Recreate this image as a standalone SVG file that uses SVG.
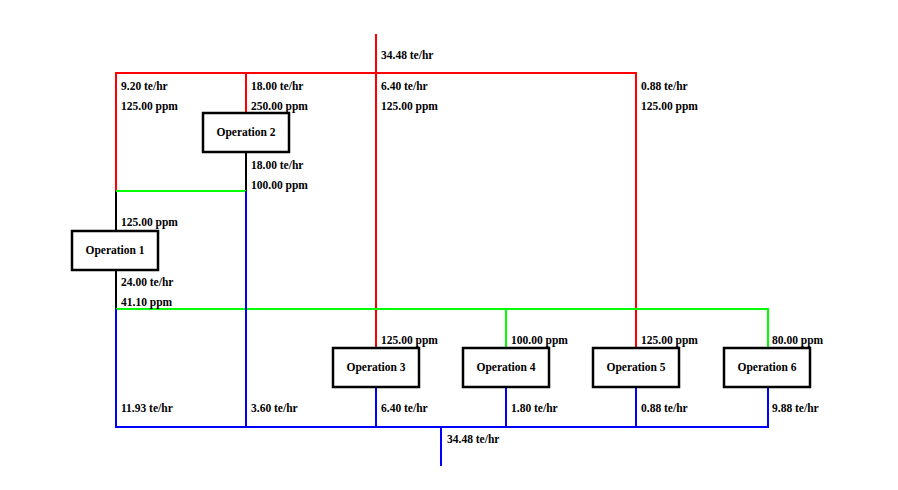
<svg xmlns="http://www.w3.org/2000/svg" width="898" height="490" viewBox="0 0 898 490">
<style>
.r{stroke:#ff0000;stroke-width:2;fill:none}
.g{stroke:#00ff00;stroke-width:2;fill:none}
.b{stroke:#0000ff;stroke-width:2;fill:none}
.k{stroke:#000000;stroke-width:2;fill:none}
.box{fill:#ffffff;stroke:#000000;stroke-width:2.5}
text{font-family:"Liberation Serif","Times New Roman",serif;font-weight:bold;font-size:11.5px;fill:#000}
.c{text-anchor:middle}
</style>
<rect width="898" height="490" fill="#ffffff"/>
<g id="connectors">
<path class="r" d="M376,34V348M116,191V73H636V348M246,73V113"/>
<path class="k" d="M246,152V191M116,191V231M116,270V309"/>
<path class="g" d="M116,191H246M116,309H768V348M506,309V348"/>
<path class="b" d="M246,191V427M116,309V427H768V388M376,388V427M506,388V427M636,388V427M441,427V466"/>
</g>
<g id="labels">
<text x="381" y="59">34.48 te/hr</text>
<text x="121" y="90">9.20 te/hr</text>
<text x="121" y="110">125.00 ppm</text>
<text x="251" y="90">18.00 te/hr</text>
<text x="251" y="110">250.00 ppm</text>
<text x="381" y="90">6.40 te/hr</text>
<text x="381" y="110">125.00 ppm</text>
<text x="641" y="90">0.88 te/hr</text>
<text x="641" y="110">125.00 ppm</text>
<text x="251" y="169">18.00 te/hr</text>
<text x="251" y="189">100.00 ppm</text>
<text x="121" y="226">125.00 ppm</text>
<text x="121" y="286">24.00 te/hr</text>
<text x="121" y="306">41.10 ppm</text>
<text x="381" y="344">125.00 ppm</text>
<text x="511" y="344">100.00 ppm</text>
<text x="641" y="344">125.00 ppm</text>
<text x="772" y="344">80.00 ppm</text>
<text x="121" y="412">11.93 te/hr</text>
<text x="251" y="412">3.60 te/hr</text>
<text x="381" y="412">6.40 te/hr</text>
<text x="511" y="412">1.80 te/hr</text>
<text x="641" y="412">0.88 te/hr</text>
<text x="772" y="412">9.88 te/hr</text>
<text x="447" y="443">34.48 te/hr</text>
</g>
<g id="op1"><rect class="box" x="72" y="231" width="86" height="39"/><text class="c" x="115" y="254">Operation 1</text></g>
<g id="op2"><rect class="box" x="203" y="113" width="86" height="39"/><text class="c" x="246" y="136">Operation 2</text></g>
<g id="op3"><rect class="box" x="333" y="348" width="86" height="39"/><text class="c" x="376" y="371">Operation 3</text></g>
<g id="op4"><rect class="box" x="463" y="348" width="86" height="39"/><text class="c" x="506" y="371">Operation 4</text></g>
<g id="op5"><rect class="box" x="593" y="348" width="86" height="39"/><text class="c" x="636" y="371">Operation 5</text></g>
<g id="op6"><rect class="box" x="724" y="348" width="86" height="39"/><text class="c" x="767" y="371">Operation 6</text></g>
</svg>
